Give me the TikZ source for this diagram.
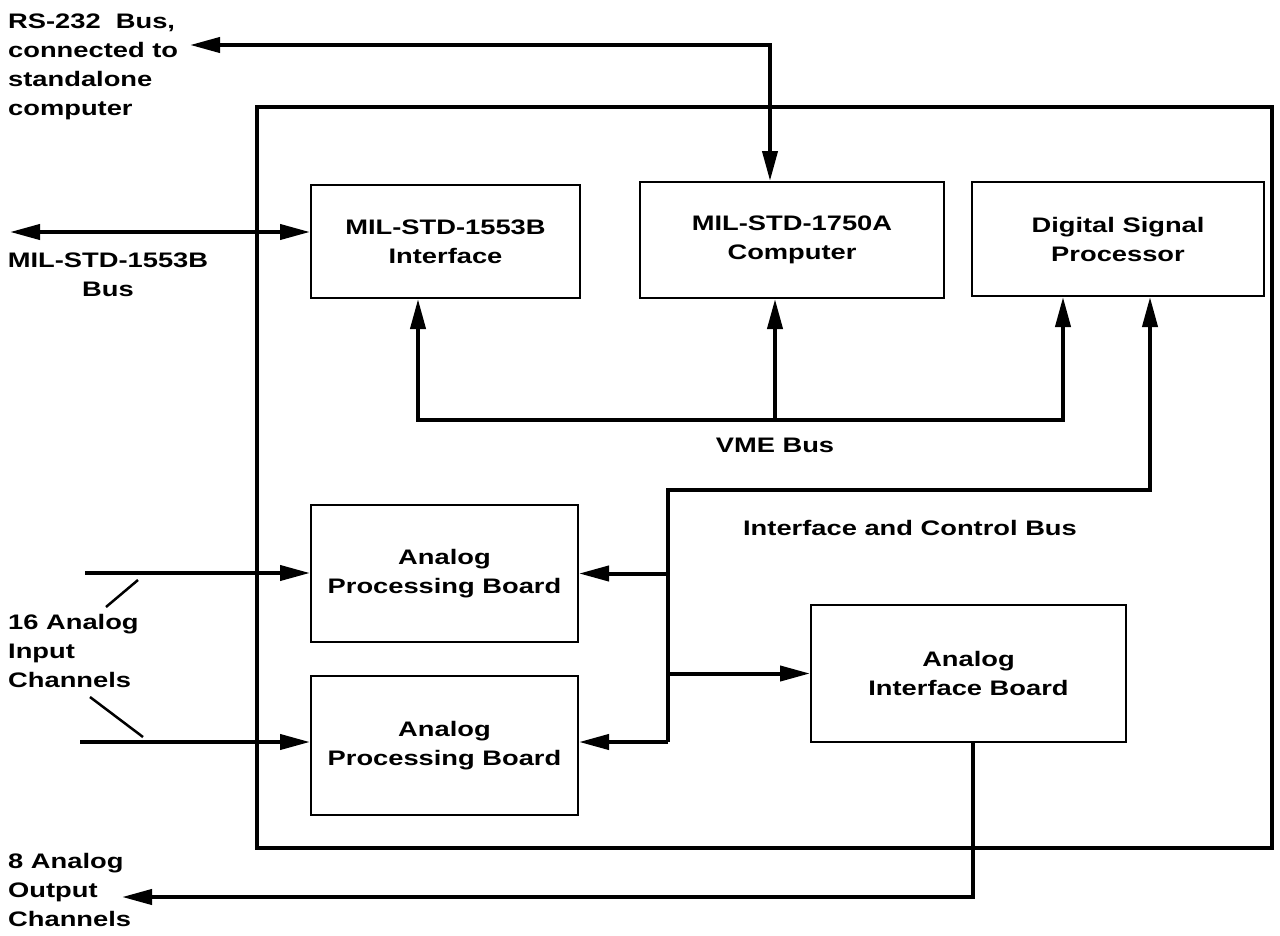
\documentclass[tikz,border=0pt]{standalone}
\usepackage{fontspec}
\setmainfont{Liberation Sans}[FakeStretch=1.3]
\usetikzlibrary{arrows.meta}
\begin{document}
\begin{tikzpicture}[x=1pt,y=-1pt,
  lbl/.style={font=\bfseries\fontsize{21}{29}\selectfont, align=center, inner sep=0pt},
  lbll/.style={font=\bfseries\fontsize{21}{29}\selectfont, align=left, inner sep=0pt, anchor=north west},
  box/.style={draw, line width=2pt, lbl},
  frm/.style={draw, line width=3.5pt},
  bus/.style={line width=4pt},
  arr/.style={bus, -{Triangle[length=30pt,width=15pt]}},
  darr/.style={bus, {Triangle[length=30pt,width=15pt]}-{Triangle[length=30pt,width=15pt]}},
  ptr/.style={line width=2.5pt}]
\useasboundingbox (0,0) rectangle (1280,935);
% frame
\node[frm, minimum width=1015pt, minimum height=741pt] (frame) at (764.5,477.5) {};
% boxes
\node[box, minimum width=269pt, minimum height=113pt] (b1) at (445.5,241.5) {MIL-STD-1553B\\Interface};
\node[box, minimum width=304pt, minimum height=116pt] (b2) at (792,240) {MIL-STD-1750A\\Computer};
\node[box, minimum width=292pt, minimum height=114pt] (b3) at (1118,239) {Digital Signal\\Processor};
\node[box, minimum width=267pt, minimum height=137pt] (p1) at (444.5,573.5) {Analog\\Processing Board};
\node[box, minimum width=267pt, minimum height=139pt] (p2) at (444.5,745.5) {Analog\\Processing Board};
\node[box, minimum width=315pt, minimum height=137pt] (aib) at (968.5,673.5) {Analog\\Interface Board};
% labels
\node[lbll] (rsl) at (8,14) {RS-232\ \ Bus,\\connected to\\standalone\\computer};
\node[lbl, anchor=north] (mil) at (108,253) {MIL-STD-1553B\\Bus};
\node[lbl] (vme) at (775,445) {VME Bus};
\node[lbl] (icb) at (910,528) {Interface and Control Bus};
\node[lbll] (inl) at (8,614) {16 Analog\\Input\\Channels};
\node[lbll] (outl) at (8,853) {8 Analog\\Output\\Channels};
% coordinates
\coordinate (rsE) at (190,45);
\coordinate (rsT) at (770,45);
\coordinate (mE) at (10,232);
\coordinate (vL) at (418,420);
\coordinate (vM) at (775,420);
\coordinate (vR) at (1063,420);
\coordinate (iR) at (1150,490);
\coordinate (iL) at (668,490);
\coordinate (iB) at (668,742);
\coordinate (in1) at (85,573);
\coordinate (in2) at (80,742);
\coordinate (oT) at (973,897);
\coordinate (oE) at (122,897);
\coordinate (pa1) at (138,580);
\coordinate (pa2) at (106,607);
\coordinate (pb1) at (90,697);
\coordinate (pb2) at (143,737);
% RS-232
\draw[darr] (rsE) -- (rsT) -- (rsT |- b2.north);
% MIL-STD-1553B bus
\draw[darr] (mE) -- (mE -| b1.west);
% VME bus
\draw[bus, line cap=rect] (vL) -- (vR);
\draw[arr] (vL) -- (vL |- b1.south);
\draw[arr] (vM) -- (vM |- b2.south);
\draw[arr] (vR) -- (vR |- b3.south);
% Interface and control bus
\draw[arr] (iB) -- (iL) -- (iR) -- (iR |- b3.south);
\draw[arr] (iL |- p1.east) -- (p1.east);
\draw[arr] (iL |- aib.west) -- (aib.west);
\draw[arr] (iB) -- (iB -| p2.east);
% inputs
\draw[arr] (in1) -- (in1 -| p1.west);
\draw[arr] (in2) -- (in2 -| p2.west);
\draw[ptr] (pa1) -- (pa2);
\draw[ptr] (pb1) -- (pb2);
% output
\draw[arr] (oT |- aib.south) -- (oT) -- (oE);
\end{tikzpicture}
\end{document}
